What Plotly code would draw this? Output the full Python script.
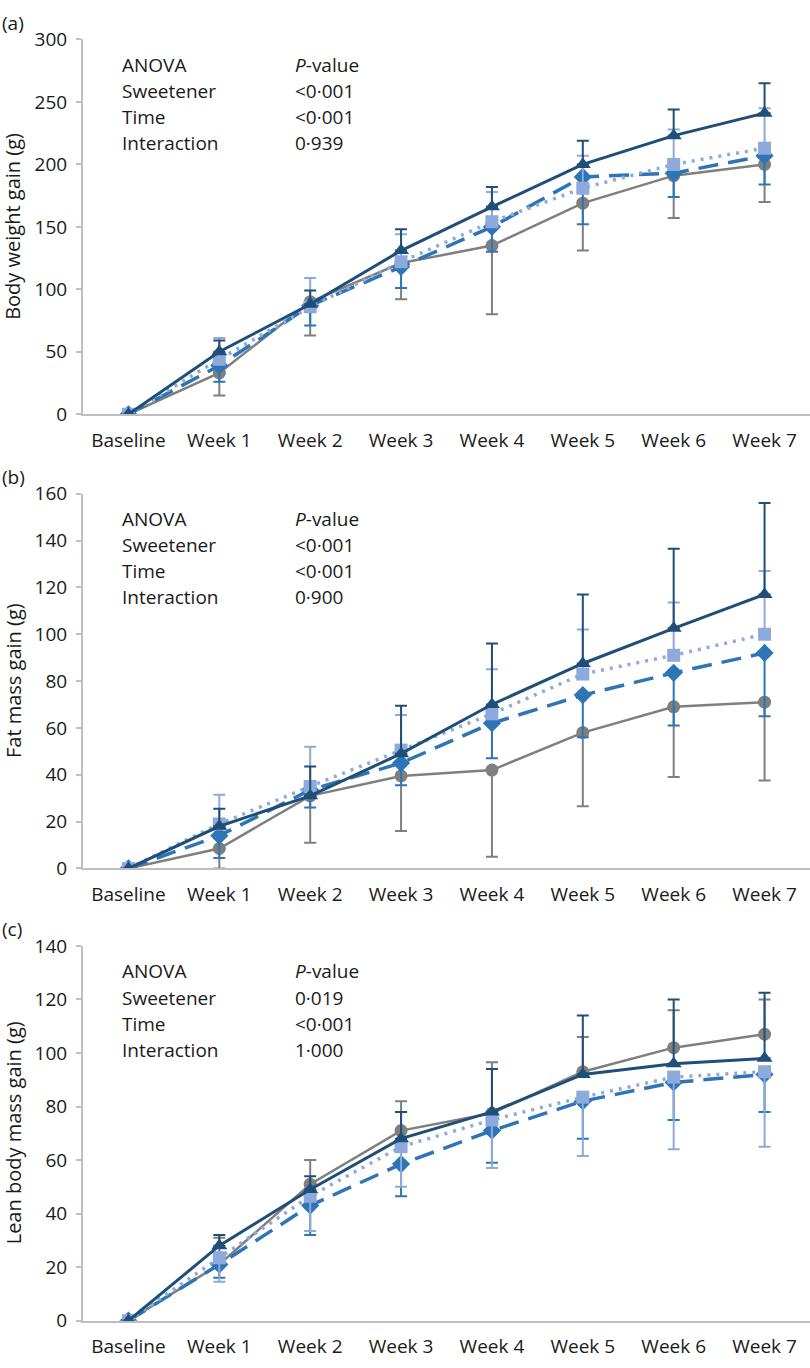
import plotly.graph_objects as go

W, H = 810, 1368

weeks = ["Baseline", "Week 1", "Week 2", "Week 3", "Week 4", "Week 5", "Week 6", "Week 7"]

# Panel (a) Body weight gain (g)
bw_circle = [0, 33, 90, 121, 135, 169, 191, 200]
bw_circle_err_down = [0, 18, 27, 29, 55, 38, 34, 30]
bw_diamond = [0, 39, 87, 118, 150, 190, 193, 207]
bw_diamond_err_down = [0, 13, 16, 17, 20, 38, 19, 23]
bw_square = [0, 44, 86, 122, 154, 181, 200, 213]
bw_square_err_up = [0, 17, 23, 22, 24, 26, 28, 32]
bw_triangle = [0, 50, 88, 131, 166, 200, 223, 241]
bw_triangle_err_up = [0, 9, 11, 17, 16, 19, 21, 24]

# Panel (b) Fat mass gain (g)
fm_circle = [0, 8.5, 31, 39.5, 42, 58, 69, 71]
fm_circle_err_down = [0, 8.5, 20, 23.5, 37, 31.5, 30, 33.5]
fm_diamond = [0, 14, 33.5, 45, 62, 74, 83.5, 92]
fm_diamond_err_down = [0, 9.5, 7.5, 9.5, 15, 18, 22.5, 27]
fm_square = [0, 19, 35, 50.5, 66, 83, 91, 100]
fm_square_err_up = [0, 12.5, 17, 15, 19, 19, 22.5, 27]
fm_triangle = [0, 18, 31, 49, 70, 87.5, 102.5, 117]
fm_triangle_err_up = [0, 7.5, 12.5, 20.5, 26, 29.5, 34, 39]

# Panel (c) Lean body mass gain (g)
lm_circle = [0, 21, 51, 71, 77.5, 93, 102, 107]
lm_circle_err_up = [0, 10, 9, 11, 19, 13, 14, 13]
lm_diamond = [0, 21, 43, 58.5, 71, 82, 89, 92]
lm_diamond_err_down = [0, 5, 11, 12, 12, 14, 14, 14]
lm_square = [0, 23.5, 46.5, 65, 75, 83.5, 91, 93]
lm_square_err_down = [0, 9, 13, 15, 18, 22, 27, 28]
lm_triangle = [0, 28, 49, 68, 78, 92, 96, 98]
lm_triangle_err_up = [0, 4, 5, 10, 16, 22, 24, 24.5]

anova_labels = ["ANOVA", "Sweetener", "Time", "Interaction"]
pvals_a = ["<i>P</i>-value", "<0·001", "<0·001", "0·939"]
pvals_b = ["<i>P</i>-value", "<0·001", "<0·001", "0·900"]
pvals_c = ["<i>P</i>-value", "0·019", "<0·001", "1·000"]

panel_letters = ["(a)", "(b)", "(c)"]
y_titles = ["Body weight gain (g)", "Fat mass gain (g)", "Lean body mass gain (g)"]
y_ranges = [(0, 300, 50), (0, 160, 20), (0, 140, 20)]

GREY = "#7F7F7F"
DIAM = "#2E75B6"
LIGHT = "#8EA9DB"
DARK = "#1F4E79"
FONT = "Open Sans"
TXT = "#1a1a1a"
FS = 19

# pixel layout of each plot area (top, bottom)
panel_px = [(27, 409), (490, 872), (951, 1333)]
x_left_px = 83


def py(v):
    return 1 - v / H


def px(v):
    return v / W


fig = go.Figure()

panels = [
    (bw_circle, bw_circle_err_down, "down", bw_diamond, bw_diamond_err_down, "down",
     bw_square, bw_square_err_up, "up", bw_triangle, bw_triangle_err_up, "up"),
    (fm_circle, fm_circle_err_down, "down", fm_diamond, fm_diamond_err_down, "down",
     fm_square, fm_square_err_up, "up", fm_triangle, fm_triangle_err_up, "up"),
    (lm_circle, lm_circle_err_up, "up", lm_diamond, lm_diamond_err_down, "down",
     lm_square, lm_square_err_down, "down", lm_triangle, lm_triangle_err_up, "up"),
]

styles = [
    dict(color=GREY, symbol="circle", size=13, dash="solid", width=2.5, ecolor=GREY),
    dict(color=DIAM, symbol="diamond", size=14, dash="20px,10px", width=3.5, ecolor=DIAM),
    dict(color=LIGHT, symbol="square", size=13, dash="3px,6px", width=3.5, ecolor=LIGHT),
    dict(color=DARK, symbol="triangle-up", size=14, dash="solid", width=3, ecolor=DARK),
]

names = ["Group 1", "Group 2", "Group 3", "Group 4"]

for i, p in enumerate(panels):
    xa = "x" if i == 0 else f"x{i+1}"
    ya = "y" if i == 0 else f"y{i+1}"
    for k in range(4):
        vals, errs, direction = p[3 * k], p[3 * k + 1], p[3 * k + 2]
        st = styles[k]
        zeros = [0] * len(errs)
        err = dict(type="data", symmetric=False,
                   array=errs if direction == "up" else zeros,
                   arrayminus=errs if direction == "down" else zeros,
                   color=st["ecolor"], thickness=2, width=6)
        fig.add_trace(go.Scatter(
            x=weeks, y=vals, mode="lines+markers", name=names[k],
            xaxis=xa, yaxis=ya, showlegend=False,
            line=dict(color=st["color"], width=st["width"], dash=st["dash"]),
            marker=dict(symbol=st["symbol"], size=st["size"], color=st["color"]),
            error_y=err,
        ))

layout = dict(
    width=W, height=H, margin=dict(l=0, r=0, t=0, b=0),
    paper_bgcolor="white", plot_bgcolor="white",
    font=dict(family=FONT, size=FS, color=TXT),
)
annotations = []
for i in range(3):
    top, bot = panel_px[i]
    suffix = "" if i == 0 else str(i + 1)
    lo, hi, step = y_ranges[i]
    layout["xaxis" + suffix] = dict(
        domain=[px(x_left_px), 1.0], anchor="y" + suffix,
        type="category", range=[-0.5, 7.5],
        showline=True, linecolor="#BFBFBF", linewidth=2,
        ticks="", showgrid=False, zeroline=False,
        tickfont=dict(family=FONT, size=FS, color=TXT),
        ticklabelstandoff=8,
    )
    layout["yaxis" + suffix] = dict(
        domain=[py(bot), py(top)], anchor="x" + suffix,
        range=[lo, hi], tickmode="linear", tick0=0, dtick=step,
        showline=True, linecolor="#BFBFBF", linewidth=2,
        ticks="outside", ticklen=5, tickcolor="#BFBFBF", tickwidth=2,
        showgrid=False, zeroline=False,
        tickfont=dict(family=FONT, size=FS, color=TXT),
        ticklabelstandoff=5,
    )
    # panel letter
    annotations.append(dict(text=panel_letters[i], x=0, y=py(top - 17), xref="paper", yref="paper",
                            xanchor="left", yanchor="middle", showarrow=False,
                            font=dict(family=FONT, size=FS, color=TXT)))
    # y title
    annotations.append(dict(text=y_titles[i], x=px(13), y=py((top + bot) / 2), xref="paper", yref="paper",
                            xanchor="center", yanchor="middle", textangle=-90, showarrow=False,
                            font=dict(family=FONT, size=20, color=TXT)))
    pv = [pvals_a, pvals_b, pvals_c][i]
    for r in range(4):
        yy = py(top + 26 + r * 26.6)
        annotations.append(dict(text=anova_labels[r], x=px(120), y=yy, xref="paper", yref="paper",
                                xanchor="left", yanchor="middle", showarrow=False,
                                font=dict(family=FONT, size=FS, color=TXT)))
        annotations.append(dict(text=pv[r], x=px(293), y=yy, xref="paper", yref="paper",
                                xanchor="left", yanchor="middle", showarrow=False,
                                font=dict(family=FONT, size=FS, color=TXT)))

layout["annotations"] = annotations
fig.update_layout(**layout)
fig.write_html(
    "out.html",
    config={"displayModeBar": False},
    post_script="document.body.style.margin='0';document.documentElement.style.overflow='hidden';document.body.style.overflow='hidden';",
)
